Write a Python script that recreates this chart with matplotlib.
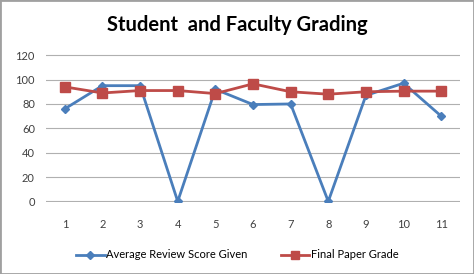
import matplotlib.pyplot as plt
from matplotlib.patches import Rectangle

# data
papers = [1, 2, 3, 4, 5, 6, 7, 8, 9, 10, 11]
review_score = [76, 95, 95, 0, 92, 79.5, 80, 0, 87, 97, 70]
paper_grade = [94, 89, 91, 91, 88.5, 96.5, 90, 88, 90, 90.5, 90.5]
y_ticks = [0, 20, 40, 60, 80, 100, 120]

plt.rcParams['font.family'] = ['Lato', 'DejaVu Sans']

fig = plt.figure(figsize=(4.74, 2.74), dpi=100)
ax = fig.add_axes([46 / 474, 1 - 202 / 274, 414 / 474, 148 / 274])

ax.plot(papers, review_score, color='#4a7ebb', lw=2, marker='D', ms=4.5,
        label='Average Review Score Given')
ax.plot(papers, paper_grade, color='#be4b48', lw=2, marker='s', ms=7,
        label='Final Paper Grade')

ax.set_xlim(0.5, 11.5)
ax.set_yticks(y_ticks)
ax.set_xticks(papers)
ax.grid(axis='y', color='#b0b0b0', lw=0.8)
ax.set_axisbelow(True)
for s in ax.spines.values():
    s.set_visible(False)
ax.tick_params(length=0, labelsize=8, colors='#404040', pad=8)
ax.tick_params(axis='x', pad=12)
ax.set_ylim(-0.5, 121)

fig.text(0.5, 1 - 25 / 274, 'Student  and Faculty Grading', ha='center', va='center',
         fontsize=14.5, fontweight='bold', color='black')

fig.legend(loc='center', bbox_to_anchor=(0.5, 1 - 255 / 274), ncol=2, frameon=False,
           fontsize=8, handlelength=2.6, columnspacing=3, handletextpad=0.1,
           markerscale=0.8)

fig.patches.append(Rectangle((0, 0), 1, 1, transform=fig.transFigure, fill=False,
                             edgecolor='#a0a0a0', lw=2))

fig.savefig('out.png', dpi=100)
